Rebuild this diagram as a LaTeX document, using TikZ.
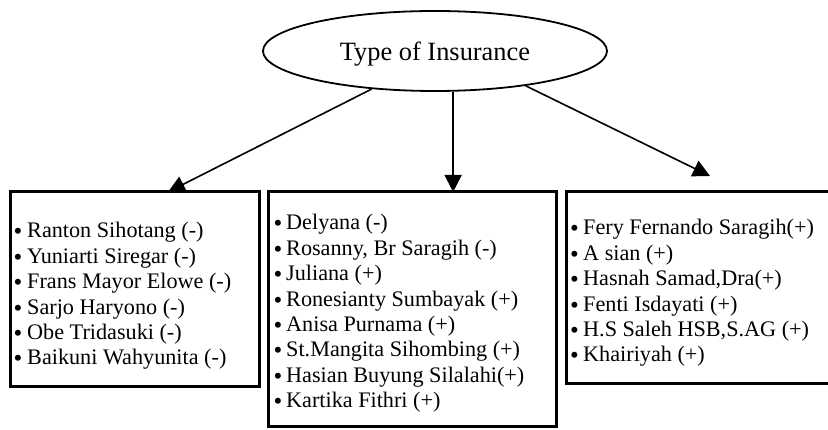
\documentclass[tikz,border=0pt]{standalone}
\usepackage{fontspec}
\setmainfont{Liberation Serif}
\usetikzlibrary{arrows.meta,shapes.geometric}
% raised bullet in a box of the given width
\newcommand\bulletbox[1]{\makebox[#1][l]{\hspace*{1.5pt}\fontsize{25}{25}\selectfont\raisebox{-2pt}{•}}}
\begin{document}
\begin{tikzpicture}[x=1pt,y=-1pt,
  boxframe/.style={draw, line width=3pt, rectangle, inner sep=0pt, outer sep=0pt},
  entry/.style={anchor=base west, inner sep=0pt, font=\fontsize{22.2}{25}\selectfont},
  link/.style={line width=1.6pt, -{Triangle[length=17pt,width=17pt]}}]
\useasboundingbox (0,0) rectangle (828,430);

% root ellipse
\node[ellipse, draw, line width=1.8pt, minimum width=344pt, minimum height=80pt,
      inner sep=0pt, text depth=0pt, font=\fontsize{26.4}{30}\selectfont]
      (ell) at (435,51) {Type of Insurance};

% the three group boxes
\node[boxframe, minimum width=249pt, minimum height=195pt] (lbox) at (134.5,289.5) {};
\node[boxframe, minimum width=288pt, minimum height=235pt] (mbox) at (412.5,309.5) {};
\node[boxframe, minimum width=294pt, minimum height=192pt] (rbox) at (713,288) {};

% left group
\foreach \t [count=\i] in {Ranton Sihotang (-), Yuniarti Siregar (-), Frans Mayor Elowe (-),
    Sarjo Haryono (-), Obe Tridasuki (-), Baikuni Wahyunita (-)} {
  \pgfmathsetmacro\yy{238+(\i-1)*25.4}
  \node[entry] (l\i) at (12,\yy) {\bulletbox{15pt}\t};
}
% middle group
\foreach \t [count=\i] in {Delyana (-), {Rosanny, Br Saragih (-)}, Juliana (+),
    Ronesianty Sumbayak (+), Anisa Purnama (+), St.Mangita Sihombing (+),
    Hasian Buyung Silalahi(+), Kartika Fithri (+)} {
  \pgfmathsetmacro\yy{230+(\i-1)*25.4}
  \node[entry] (m\i) at (272,\yy) {\bulletbox{14pt}\t};
}
% right group
\foreach \t [count=\i] in {Fery Fernando Saragih(+), A sian (+), {Hasnah Samad,Dra(+)},
    Fenti Isdayati (+), {H.S Saleh HSB,S.AG (+)}, Khairiyah (+)} {
  \pgfmathsetmacro\yy{235+(\i-1)*25.4}
  \node[entry] (r\i) at (568.5,\yy) {\bulletbox{14.5pt}\t};
}

% connectors
\coordinate (rtip) at (710,176);
\draw[link] (ell.211) -- ([xshift=158pt]lbox.north west);
\draw[link] (ell.294) -- (ell.294 |- mbox.north);
\draw[link] (ell.339) -- (rtip);
\end{tikzpicture}
\end{document}
